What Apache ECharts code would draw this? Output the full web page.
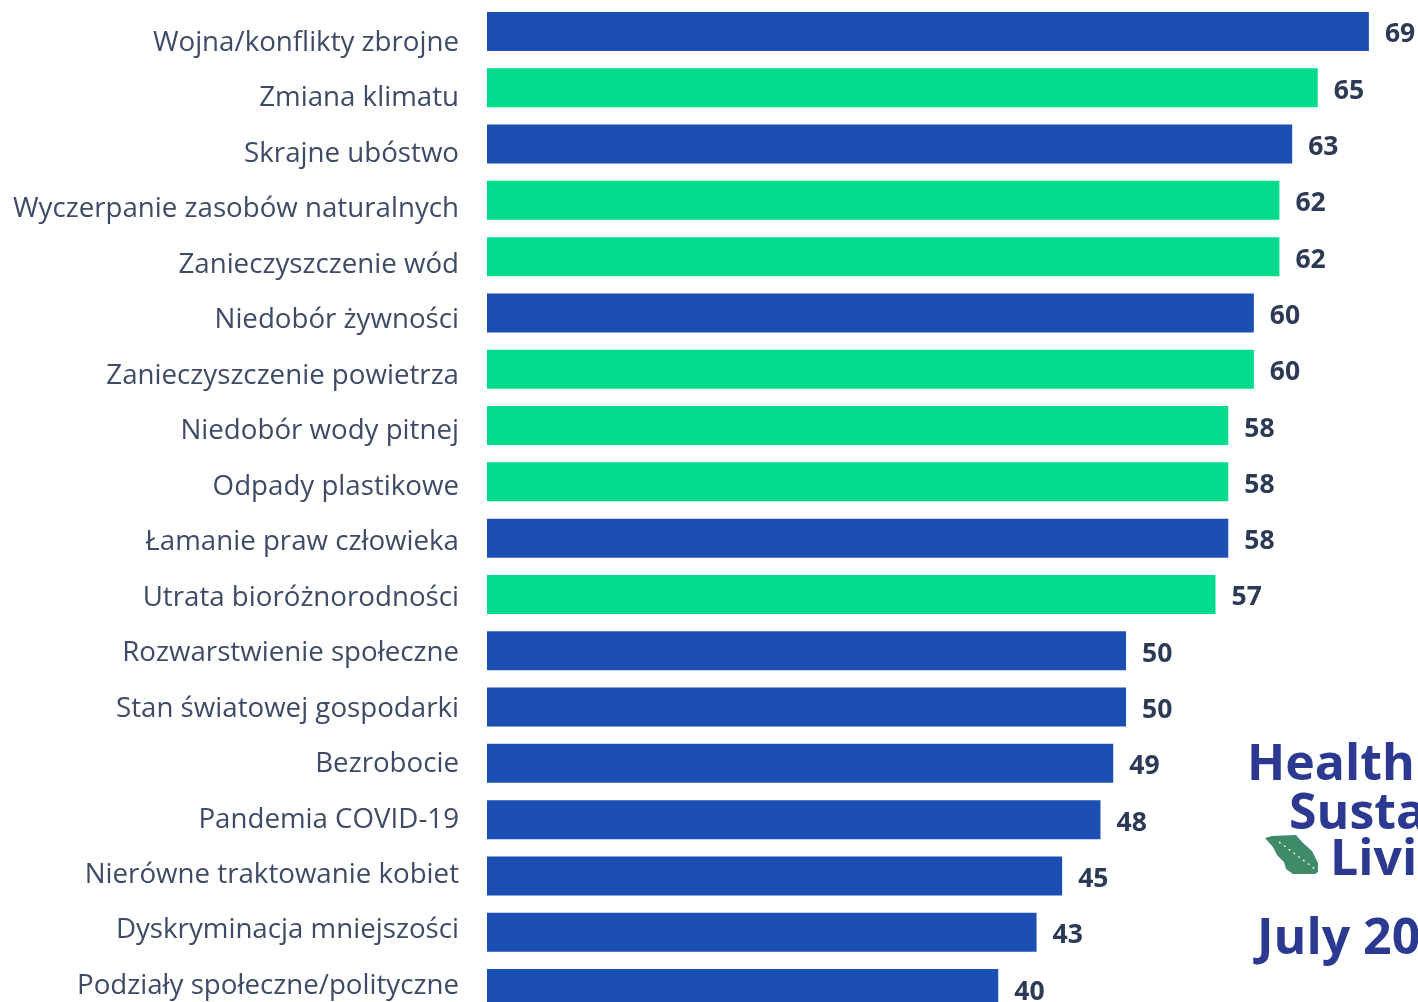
<!DOCTYPE html>
<html><head><meta charset="utf-8">
<style>html,body{margin:0;padding:0;background:#fff;overflow:hidden}#c{width:1418px;height:1002px}</style>
<script src="https://cdn.jsdelivr.net/npm/echarts@6/dist/echarts.min.js"></script>
</head><body><div id="c"></div>
<script>
const categories = ["Wojna/konflikty zbrojne","Zmiana klimatu","Skrajne ubóstwo","Wyczerpanie zasobów naturalnych","Zanieczyszczenie wód","Niedobór żywności","Zanieczyszczenie powietrza","Niedobór wody pitnej","Odpady plastikowe","Łamanie praw człowieka","Utrata bioróżnorodności","Rozwarstwienie społeczne","Stan światowej gospodarki","Bezrobocie","Pandemia COVID-19","Nierówne traktowanie kobiet","Dyskryminacja mniejszości","Podziały społeczne/polityczne"];
const values = [69,65,63,62,62,60,60,58,58,58,57,50,50,49,48,45,43,40];
const isEnvironment = [0,1,0,1,1,0,1,1,1,0,1,0,0,0,0,0,0,0];
const BLUE = "#1c4fb3", GREEN = "#00dc8c", NAVY = "#2b3990", LEAF = "#3f8a68";
const FONT = "'Open Sans', sans-serif";
const chart = echarts.init(document.getElementById('c'), null, {renderer:'canvas'});
const hiddenAxis = {axisLine:{show:false},axisTick:{show:false},splitLine:{show:false},axisLabel:{show:false}};
chart.setOption({
  animation:false,
  backgroundColor:'#ffffff',
  grid:[
    {left:487, top:3.3, width:933, height:1013.4, outerBoundsMode:'none'},
    {left:487, top:15.3, width:933, height:998.5, outerBoundsMode:'none'}
  ],
  xAxis:[
    Object.assign({type:'value',min:0,max:73,gridIndex:0},hiddenAxis),
    Object.assign({type:'value',min:0,max:73,gridIndex:1},hiddenAxis)
  ],
  yAxis:[
    Object.assign({type:'category',inverse:true,data:categories,gridIndex:0},hiddenAxis),
    {type:'category',inverse:true,data:categories,gridIndex:1,
     axisLine:{show:false},axisTick:{show:false},splitLine:{show:false},
     axisLabel:{show:true,interval:0,margin:28,color:'#3d4b66',fontFamily:FONT,fontSize:27.7,align:'right'}}
  ],
  series:[{
    type:'bar',xAxisIndex:0,yAxisIndex:0,barWidth:39,
    data:values.map((v,i)=>({value:v,itemStyle:{color:isEnvironment[i]?GREEN:BLUE}})),
    label:{show:true,position:'right',distance:16,offset:[0,3.5],color:'#2d3a55',fontFamily:FONT,fontWeight:'bold',fontSize:26.5}
  }],
  graphic:[
    {type:'text',x:1247,y:741,style:{text:'Health',fill:NAVY,font:"bold 50px 'Open Sans', sans-serif"}},
    {type:'text',x:1289,y:790,style:{text:'Susta',fill:NAVY,font:"bold 50px 'Open Sans', sans-serif"}},
    {type:'text',x:1330,y:836,style:{text:'Livi',fill:NAVY,font:"bold 50px 'Open Sans', sans-serif"}},
    {type:'text',x:1257,y:915,style:{text:'July 20',fill:NAVY,font:"bold 50px 'Open Sans', sans-serif"}},
    {type:'polygon',shape:{points:[[1265,838],[1272,836],[1296,835],[1303,843],[1312,851],[1318,863],[1318,872],[1315,874],[1293,874],[1286,869],[1284,862],[1277,855],[1273,847]]},style:{fill:LEAF}},
    {type:'line',shape:{x1:1279,y1:842,x2:1315,y2:869},style:{stroke:'#ffffff',lineWidth:1.2,lineDash:[2,4]}}
  ]
});
</script></body></html>
